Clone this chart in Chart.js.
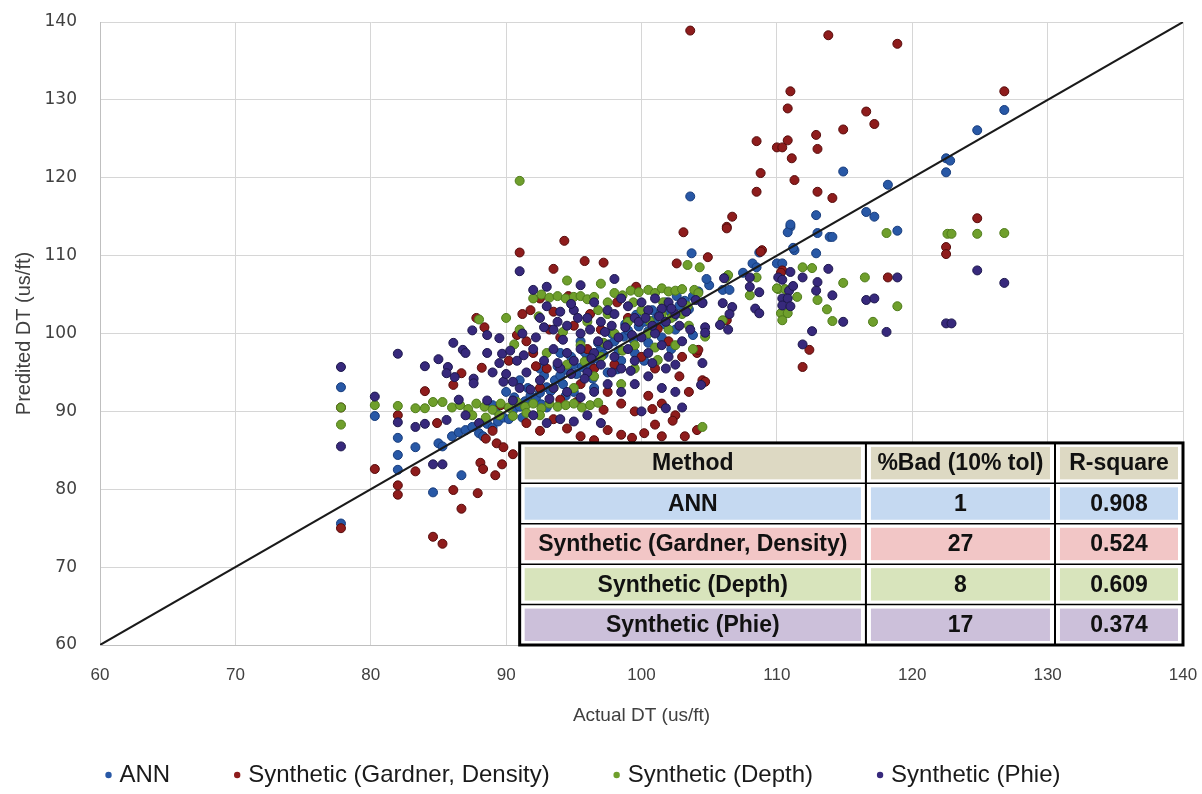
<!DOCTYPE html>
<html>
<head>
<meta charset="utf-8">
<title>Actual vs Predicted DT</title>
<script src="https://cdn.jsdelivr.net/npm/chart.js"></script>
<style>
    html, body { margin: 0; padding: 0; background: #fff; }
    #wrap { width: 1202px; height: 794px; }
</style>
</head>
<body>
<div id="wrap"><canvas id="chartDT" width="1202" height="794"></canvas></div>
<script>

// Axis range / ticks (us/ft)
var axisMin  = 60
    , axisMax  = 140
    , axisStep = 10
    ;

// 1:1 reference line
var diagLine = [60, 140];

// Series names (legend + table)
var seriesNames = ['ANN', 'Synthetic (Gardner, Density)', 'Synthetic (Depth)', 'Synthetic (Phie)'];

// ANN: [actual, predicted]
var annPts = [
    [77.8,93.1],[77.8,75.6],[80.3,89.4],[82,86.6],[82,84.4],[82,82.5],[83.3,85.4],[84.6,79.6],[85,85.9],[85.3,85.5],[86.7,81.8],
    [86,86.8],[86.5,87.3],[87,87.6],[87.5,88],[88,87.2],[88.3,86.8],[88.6,88.4],[89,87.9],[89.4,88.7],[89.8,89.2],[90.2,89],
    [90.5,90.1],[91,90.6],[91.4,91.3],[91.8,92],[92.2,91.7],[92.5,92.4],[93,93.1],[93.3,92.6],[93.6,94],[94,94.6],[94.2,93.5],
    [94.6,95.2],[95,96],[95.2,94.8],[95.6,95.7],[96,97.1],[96.2,96],[96.6,96.8],[97,98],[97.2,97.3],[97.6,98.6],[98,99],
    [98.3,97.8],[98.7,99.6],[99,100.4],[99.4,99.2],[99.8,100.9],[100.2,101.5],[100.5,100.3],[101,101.8],[101.3,102.5],
    [101.7,101.2],[102,103],[102.4,102.2],[102.8,103.6],[103.2,104.2],[103.5,103.1],[103.8,104.8],[104.2,105.4],[104.5,104],
    [92.5,95.5],[94,97.5],[95.5,99],[96.5,93],[97.5,95],[98.5,96.5],[99.5,97.5],[93,90.5],[95,92.5],[100.5,98.8],[101.5,99.5],
    [102.5,100.5],[90,92.5],[91,94],[87.2,89.6],[89,90.8],
    [89.2,90.2],[90.6,91.8],[91.6,93],[92.8,94.6],[93.8,95.8],[94.8,97],[95.8,97.6],[96.8,98.8],[97.8,100],[98.8,101.2],
    [99.6,102.4],[100.8,103],[101.8,104],[102.6,104.8],[91.2,89.2],[92.6,90.9],[94.4,92],[96.4,94.2],[98.2,95.4],
    [100.2,96.5],[102.2,98],[103.8,99.8],
    [103.6,117.6],[103.7,110.3],[106,105.6],[106.5,105.6],[106.3,107.3],[107.5,107.8],[105,106.2],[104.8,107],
    [108.2,109],[108.5,108.5],[108.7,110.4],[110,109],[110.4,109],[111,113.7],[110.8,113],[111.3,110.7],[111.2,111],
    [112.9,110.3],[113,112.9],[113.9,112.4],[114.1,112.4],[112.9,115.2],[111,114],[114.9,120.8],[116.6,115.6],[117.2,115],
    [118.2,119.1],[118.9,113.2],[122.5,122.5],[122.8,122.2],[122.5,120.7],[124.8,126.1],[126.8,128.7]
];

// Synthetic (Gardner, Density)
var gardnerPts = [
    [77.8,90.5],[77.8,75],[80.3,82.6],[82,89.5],[82,80.5],[82,79.3],[83.3,82.3],[84,92.6],[84.6,73.9],[85.3,73],[84.9,88.5],
    [86.1,93.4],[86.7,94.9],[86.1,79.9],[86.7,77.5],[87.9,79.5],[88.1,83.4],[88.3,82.6],[89.2,81.8],[89.7,83.2],[89.3,85.9],
    [89.8,85.4],[88.2,95.6],[88.4,100.8],[87.8,102],[88.5,86.5],[89,87.5],[90.5,84.5],
    [91,110.4],[94.3,111.9],[95.8,109.3],[97.2,109.1],[93.5,108.3],[92.5,104.5],[93.5,102.8],[91.5,99],[92,97.5],[93,95.5],
    [94,99.5],[95,101],[96,98],[97,100.5],[98,96],[99,102],[100,97],[101,95.5],[102,99],[103,97],[92.5,93],[94,91.5],
    [95.5,93.5],[96.5,95.5],[97.5,92.5],[98.5,91],[99.5,90],[100.5,92],[101.5,91],[102.5,89.5],[91.5,88.5],[92.5,87.5],
    [93.5,89],[94.5,87.8],[95.5,86.8],[96.5,86.3],[97.5,87.6],[98.5,87],[99.3,86.6],[100.2,87.2],[101,88.3],[102.3,88.8],
    [101.5,86.8],[103.5,92.5],[90.2,96.5],[91.2,102.5],
    [90.8,99.8],[91.8,103],[93.2,100.5],[94.6,104.8],[96.2,102.5],[98.2,104],[99.6,106],[101.2,100.6],[102.8,94.5],
    [100.8,90.3],[97.2,90.2],[95.2,91.2],[92.2,95.8],[89.6,90.8],[103.2,86.8],
    [102.6,109],[103.1,113],[104.9,109.8],[106.3,113.7],[108.9,110.7],[110.4,108.1],[110.3,107.8],[103.6,138.9],
    [113.8,138.3],[118.9,137.2],[111,131.1],[110.8,128.9],[126.8,131.1],[116.6,128.5],[117.2,126.9],[114.9,126.2],
    [112.9,125.5],[113,123.7],[108.5,124.7],[110,123.9],[110.4,123.9],[110.8,124.8],[111.1,122.5],[108.8,120.6],
    [111.3,119.7],[108.5,118.2],[113,118.2],[114.1,117.4],[106.7,115],[106.3,113.5],[124.8,114.8],[122.5,111.1],
    [122.5,110.2],[108.8,110.5],[118.2,107.2],[112.4,97.9],[111.9,95.7],[104.1,97.5],[104.5,94],[104.7,93.8],
    [104.1,87.6],[106.3,101.7],[104.2,97.9]
];

// Synthetic (Depth)
var depthPts = [
    [77.8,90.5],[77.8,88.3],[80.3,90.8],[82,90.7],[83.3,90.4],[84,90.4],[84.6,91.2],[85.3,91.2],[86,90.5],[86.6,90.8],
    [87.2,90.3],[87.8,91],[88.4,90.6],[88,101.8],[89,90.2],[89.6,91],[90.2,90.5],[90.8,91.2],[91.4,90.6],[92,91],
    [92.6,90.4],[93.2,91],[93.8,90.6],[94.4,90.8],[95,91],[95.6,90.5],[96.2,90.8],[96.8,91.1],[88.5,89.2],[89.5,89.5],
    [90.5,89.4],[91.5,89.8],[92.5,89.5],[87.5,89.5],
    [92,104.5],[92.6,105],[93.2,104.6],[93.8,104.8],[94.4,104.5],[95,104.7],[95.5,104.8],[96,104.4],[96.5,104.7],
    [97.5,104],[98,105.2],[98.6,104.9],[99.2,105.5],[99.8,105.3],[100.5,105.6],[101,105.2],[101.5,105.8],[102,105.4],
    [102.5,105.5],[103,105.7],[91,119.6],[94.5,106.8],[97,106.4],[90,102],[91,100.5],
    [93,97.5],[94.5,96],[95.5,98.5],[96.5,94.5],[97,97],[98,100],[99,101.5],[99.5,98.5],[100,103],[100.5,100],
    [101,98.2],[101.5,102.5],[102,100.5],[102.5,98.5],[103,102.5],[103.5,101],[96,101.5],[97.5,102.5],[98.5,93.5],
    [99.5,95.5],[95,93],[93.5,93],
    [90.6,98.6],[92.4,102.2],[94.2,100.2],[96.8,103],[99.4,104],[101.6,104],[103.4,103.5],[102.2,102],[98.6,97.8],
    [97.2,98.8],[95.8,96.4],[100.6,101.6],[103.8,98],[101.2,96.6],
    [103.4,108.8],[104.3,108.5],[103.9,105.6],[104.2,105.2],[104.7,99.6],[106.4,107.5],[106.2,107.1],[106,101.7],
    [104.5,88],[108.5,107.2],[108,104.9],[110.1,105.7],[110.6,105.7],[111.5,104.7],[110.3,102.6],[110.8,102.6],
    [110.4,101.7],[111.9,108.5],[112.6,108.4],[114.9,106.5],[116.5,107.2],[113.7,103.1],[113,104.3],[114.1,101.6],
    [117.1,101.5],[118.1,112.9],[118.9,103.5],[122.6,112.8],[122.9,112.8],[124.8,112.8],[126.8,112.9],[110,105.8]
];

// Synthetic (Phie)
var phiePts = [
    [77.8,95.7],[77.8,85.5],[80.3,91.9],[82,97.4],[82,88.6],[83.3,88],[84,88.4],[84,95.8],[84.6,83.2],[85.3,83.2],
    [85,96.7],[85.7,95.7],[85.6,88.9],[86.1,98.8],[86.8,97.9],[87,97.5],[87.5,100.4],[88.6,99.8],[89.5,99.4],[88.6,97.5],
    [89.7,97.4],[90.3,97.8],[91.2,100],[85.6,94.9],[86.2,94.4],[87.6,94.2],[87.6,93.6],[88.6,91.4],[89.8,93.8],
    [90.5,93.8],[91,93],[86.5,91.5],[87,89.5],[88,88.5],
    [91,108],[92,105.6],[92.5,102],[93,103.5],[93.5,100.5],[94,102.8],[94.5,101],[95,103],[95.5,100],[96,102],
    [96.5,104],[97,101.5],[97.5,103],[98,102.5],[98.5,104.5],[99,103.5],[99.5,102],[100,104],[100.5,103],[101,104.5],
    [101.5,103.2],[102,104],[102.5,102.5],[103,104],[92,98],[92.8,96.5],[93.5,98],[94,95.5],[94.5,97.5],[95,96.5],
    [95.5,98],[96,95],[96.5,97.5],[97,96],[97.5,98.5],[98,97],[98.5,95.5],[99,98],[99.5,96.5],[100,99.5],[100.5,97.5],
    [101,100],[101.5,98.5],[102,97],[102.5,96],[103,99],[91.5,95],[92.5,94],[93.5,93],[94.5,92.5],[95.5,91.8],
    [96.5,92.5],[97.5,93.5],[98.5,92.5],[99.5,93.5],[100.5,94.5],[101.5,93],[102.5,92.5],[92,89.5],[93,88.5],[94,89],
    [95,88.7],[96,89.5],[97,88.5],[93,106],[95.5,106.2],[98,107],
    [89,95],[89.5,96.2],[90,94.8],[90.8,96.5],[91.3,97.2],[92.2,99.5],[92.8,100.8],[93.8,101.5],[94.2,99.2],[94.8,103.8],
    [95.3,102],[96.2,100.5],[96.8,99],[97.3,100.2],[97.8,101],[98.3,99.5],[98.8,100.8],[99.3,99.8],[99.8,101.5],
    [100.3,102],[100.8,101],[101.3,102.2],[101.8,101.5],[102.2,103.2],[102.8,101],[103.3,102.8],[103.6,100.5],
    [96.3,96.8],[95.8,94.2],[94.8,94.8],[93.8,96.2],[97.8,95],[99.2,95.2],[100.8,96.2],[101.8,95.5],[93.2,91.6],
    [91.8,92.8],[90.5,91.4],
    [104,104.3],[104.5,103.9],[104.7,100.8],[104.7,100.1],[104.5,96.2],[104.4,93.4],[101.8,90.4],[106.1,107.1],
    [106,103.9],[106.7,103.4],[105.8,101.1],[106.4,100.5],[108,107.2],[108,106],[108.7,105.3],[108.4,103.2],
    [108.7,102.6],[110.1,107.2],[110.4,106.9],[111,107.9],[110.9,105.5],[111.2,106.1],[110.4,104.5],[110.8,104.5],
    [110.4,103.6],[111,103.5],[111.9,107.2],[113,106.6],[112.9,105.5],[113.8,108.3],[114.1,104.9],[114.9,101.5],
    [116.6,104.3],[117.2,104.5],[118.1,100.2],[112.6,100.3],[111.9,98.6],[118.9,107.2],[124.8,108.1],[126.8,106.5],
    [122.5,101.3],[122.9,101.3],[106.5,102.5],[100,90],[103,90.5]
];

// Table overlay
var tableHead    = ['Method', '%Bad (10% tol)', 'R-square'];
var tableBad     = ['1', '27', '8', '17'];
var tableRsquare = ['0.908', '0.524', '0.609', '0.374'];


function toXY(pts){
    return pts.map(p => ({x: p[0], y: p[1]}));
}

//region :: Table plugin
var statsTable = {
    id: 'statsTable',
    afterDatasetsDraw: function(chart){
        var ctx = chart.ctx
            , xs = chart.scales.x
            , ys = chart.scales.y
            , left = xs.getPixelForValue(91.0)
            , top = ys.getPixelForValue(85.95)
            , right = chart.chartArea.right
            , bottom = chart.chartArea.bottom
            , w = right - left
            , rh = (bottom - top) / 5
            , cols = [left, left + w * 0.522, left + w * 0.807, right]
            , fills = ['#ddd9c3', '#c5d9f1', '#f2c6c6', '#d8e4bc', '#ccc0da']
            ;

        ctx.save();
        ctx.fillStyle = '#fff';
        ctx.fillRect(left, top, w, bottom - top);

        for (var r = 0; r < 5; r++) {
            var row = r === 0 ? tableHead : [seriesNames[r - 1], tableBad[r - 1], tableRsquare[r - 1]];
            for (var c = 0; c < 3; c++) {
                ctx.fillStyle = fills[r];
                ctx.fillRect(cols[c] + 5, top + r * rh + 4, cols[c + 1] - cols[c] - 10, rh - 8);
                ctx.fillStyle = '#111';
                ctx.font = 'bold 23px "Liberation Sans", sans-serif';
                ctx.textAlign = 'center';
                ctx.textBaseline = 'middle';
                ctx.fillText(row[c], (cols[c] + cols[c + 1]) / 2, top + r * rh + rh / 2 + 1);
            }
        }

        ctx.strokeStyle = '#000';
        ctx.lineWidth = 1.5;
        for (r = 1; r < 5; r++) {
            ctx.beginPath();
            ctx.moveTo(left, top + r * rh);
            ctx.lineTo(right, top + r * rh);
            ctx.stroke();
        }
        ctx.lineWidth = 2;
        [cols[1], cols[2]].forEach(cx => {
            ctx.beginPath();
            ctx.moveTo(cx, top);
            ctx.lineTo(cx, bottom);
            ctx.stroke();
        });
        ctx.lineWidth = 3;
        ctx.strokeRect(left, top, w, bottom - top);
        ctx.restore();
    }
};
//endregion

//region :: Legend row (bottom)
var legendRow = {
    id: 'legendRow',
    afterDraw: function(chart){
        var ctx = chart.ctx
            , gap = 64
            , textOff = 14
            , cy = 775
            , centre = 583
            ;

        ctx.save();
        ctx.font = '24px "Liberation Sans", sans-serif';
        var widths = seriesNames.map(n => ctx.measureText(n).width);
        var total = widths.reduce((a, w) => a + textOff + w, 0) + gap * (seriesNames.length - 1);
        var x = centre - total / 2;

        seriesNames.forEach((name, i) => {
            var ds = chart.data.datasets[i];
            ctx.fillStyle = ds.backgroundColor;
            ctx.beginPath();
            ctx.arc(x + 3, cy, 3.2, 0, Math.PI * 2);
            ctx.fill();
            ctx.fillStyle = '#1a1a1a';
            ctx.textAlign = 'left';
            ctx.textBaseline = 'middle';
            ctx.fillText(name, x + textOff, cy);
            x += textOff + widths[i] + gap;
        });
        ctx.restore();
    }
};
//endregion


var ptStyle = {
    showLine: false,
    pointRadius: 4.5,
    pointHoverRadius: 4.5,
    pointBorderWidth: 1
};

var ctx = document.getElementById('chartDT').getContext('2d');
var chart = new Chart(ctx, {
    type: 'scatter',
    data: {
        datasets: [
            Object.assign({label: seriesNames[0], data: toXY(annPts),     order: 4, backgroundColor: '#2858a6', borderColor: '#173c7c', pointBackgroundColor: '#2858a6', pointBorderColor: '#173c7c'}, ptStyle),
            Object.assign({label: seriesNames[1], data: toXY(gardnerPts), order: 3, backgroundColor: '#8e1c1c', borderColor: '#560b0b', pointBackgroundColor: '#8e1c1c', pointBorderColor: '#560b0b'}, ptStyle),
            Object.assign({label: seriesNames[2], data: toXY(depthPts),   order: 2, backgroundColor: '#6f9f2c', borderColor: '#4e7b1a', pointBackgroundColor: '#6f9f2c', pointBorderColor: '#4e7b1a'}, ptStyle),
            Object.assign({label: seriesNames[3], data: toXY(phiePts),    order: 1, backgroundColor: '#37297c', borderColor: '#1c174c', pointBackgroundColor: '#37297c', pointBorderColor: '#1c174c'}, ptStyle),
            {
                type: 'line',
                label: '1:1',
                data: [{x: diagLine[0], y: diagLine[0]}, {x: diagLine[1], y: diagLine[1]}],
                borderColor: '#1a1a1a',
                borderWidth: 2,
                pointRadius: 0,
                order: 0
            }
        ]
    },
    options: {
        responsive: false,
        animation: false,
        layout: { padding: { left: 0, right: 19, top: 22, bottom: 64 } },
        scales: {
            x: {
                type: 'linear',
                min: axisMin,
                max: axisMax,
                ticks: {
                    stepSize: axisStep,
                    padding: 2,
                    color: '#404040',
                    font: { family: '"Liberation Sans", sans-serif', size: 17 }
                },
                grid: { color: '#d6d6d6', drawTicks: true, tickLength: 18, tickColor: 'rgba(0,0,0,0)' },
                border: { color: '#bfbfbf' },
                title: {
                    display: true,
                    text: 'Actual DT (us/ft)',
                    color: '#404040',
                    font: { family: '"Liberation Sans", sans-serif', size: 19 },
                    padding: { top: 3, bottom: 3 }
                },
                afterFit: function(scale){ scale.height = 85; }
            },
            y: {
                type: 'linear',
                min: axisMin,
                max: axisMax,
                ticks: {
                    stepSize: axisStep,
                    padding: 3,
                    color: '#404040',
                    font: { family: '"DejaVu Sans", sans-serif', size: 17 }
                },
                grid: { color: '#d6d6d6', drawTicks: true, tickLength: 20, tickColor: 'rgba(0,0,0,0)' },
                border: { color: '#bfbfbf' },
                title: {
                    display: true,
                    text: 'Predited DT (us/ft)',
                    color: '#404040',
                    font: { family: '"Liberation Sans", sans-serif', size: 20 },
                    padding: { top: 12, bottom: 0 }
                },
                afterFit: function(scale){ scale.width = 100; }
            }
        },
        plugins: {
            legend: { display: false },
            tooltip: { enabled: false }
        }
    },
    plugins: [statsTable, legendRow]
});
</script>
</body>
</html>
